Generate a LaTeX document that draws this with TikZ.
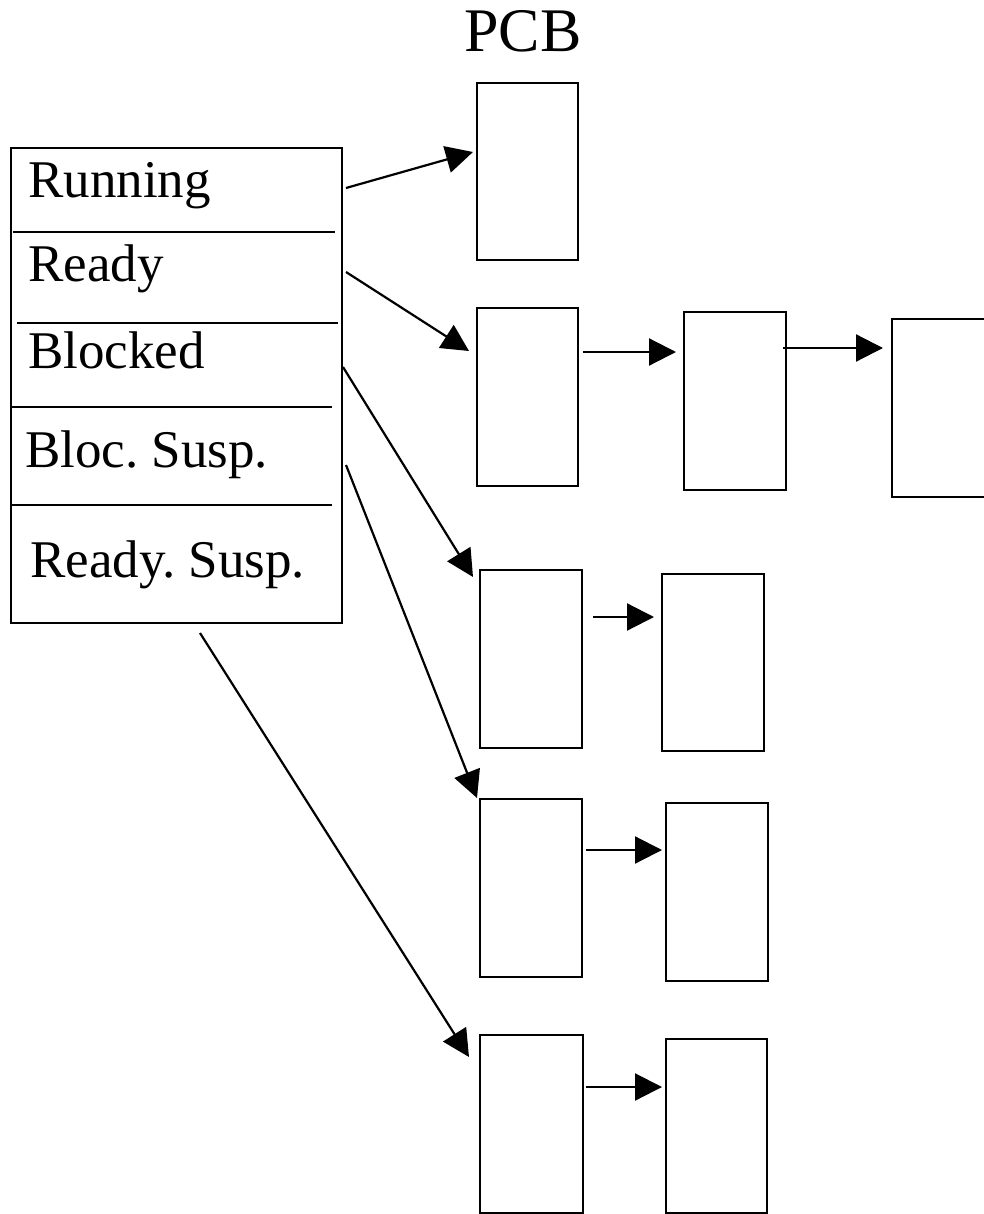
\documentclass[tikz,border=0pt]{standalone}
\usepackage{fontspec}
\setmainfont{Liberation Serif}
\usetikzlibrary{arrows.meta,calc}
\frenchspacing
\begin{document}
\begin{tikzpicture}[x=1pt,y=-1pt,
  pcb/.style={draw,line width=1.8pt,inner sep=0pt,outer sep=0pt,anchor=north west},
  lbl/.style={anchor=base west,inner sep=0pt,font=\fontsize{53}{60}\selectfont},
  arr/.style={line width=2.2pt,-{Triangle[length=27pt,width=27pt]}},
  divider/.style={line width=1.8pt}]
\useasboundingbox (0,0) rectangle (983,1214);
\fill[white] (0,0) rectangle (983,1214);
% title
\node[anchor=base west,inner sep=0pt,font=\fontsize{62}{70}\selectfont] (title) at (464,52) {PCB};
% state table
\node[pcb,minimum width=331pt,minimum height=475pt] (states) at (11,148) {};
\draw[divider] (13,232) -- (335,232);
\draw[divider,line width=2.6pt] (17,323) -- (338,323);
\draw[divider] (12,407) -- (332,407);
\draw[divider] (12,505) -- (332,505);
\node[lbl] (lrun) at (28,198) {Running};
\node[lbl] (lready) at (28,282) {Ready};
\node[lbl] (lblk) at (28,368) {Blocked};
\node[lbl] (lbs) at (25,467) {Bloc. Susp.};
\node[lbl] (lrs) at (30,577) {Ready. Susp.};
% PCB boxes
\node[pcb,minimum width=101pt,minimum height=177pt] (b1) at (477,83) {};
\node[pcb,minimum width=101pt,minimum height=178pt] (b2) at (477,308) {};
\node[pcb,minimum width=102pt,minimum height=178pt] (b3) at (684,312) {};
\node[pcb,minimum width=110pt,minimum height=178pt] (b4) at (892,319) {};
\node[pcb,minimum width=102pt,minimum height=178pt] (b5) at (480,570) {};
\node[pcb,minimum width=102pt,minimum height=177pt] (b6) at (662,574) {};
\node[pcb,minimum width=102pt,minimum height=178pt] (b7) at (480,799) {};
\node[pcb,minimum width=102pt,minimum height=178pt] (b8) at (666,803) {};
\node[pcb,minimum width=103pt,minimum height=178pt] (b9) at (480,1035) {};
\node[pcb,minimum width=101pt,minimum height=174pt] (b10) at (666,1039) {};
% arrows from states
\draw[arr] ($(states.north east)+(4,40)$) -- ($(b1.north west)+(-4,69)$);
\draw[arr] ($(states.north east)+(4,124)$) -- ($(b2.north west)+(-8,43)$);
\draw[arr] ($(states.north east)+(1,219)$) -- ($(b5.north west)+(-7,7)$);
\draw[arr] ($(states.north east)+(4,317)$) -- ($(b7.north west)+(-3,-1)$);
\draw[arr] ($(states.south)+(23.5,10)$) -- ($(b9.north west)+(-11,22)$);
% chain arrows
\draw[arr] ($(b2.north east)+(5,44)$) -- ($(b3.north west)+(-8,40)$);
\draw[arr] ($(b3.north east)+(-3,36)$) -- ($(b4.north west)+(-9,29)$);
\draw[arr] ($(b5.north east)+(11,47)$) -- ($(b6.north west)+(-8,43)$);
\draw[arr] ($(b7.north east)+(4,51)$) -- ($(b8.north west)+(-4,47)$);
\draw[arr] ($(b9.north east)+(3,52)$) -- ($(b10.north west)+(-4,48)$);
\end{tikzpicture}
\end{document}
